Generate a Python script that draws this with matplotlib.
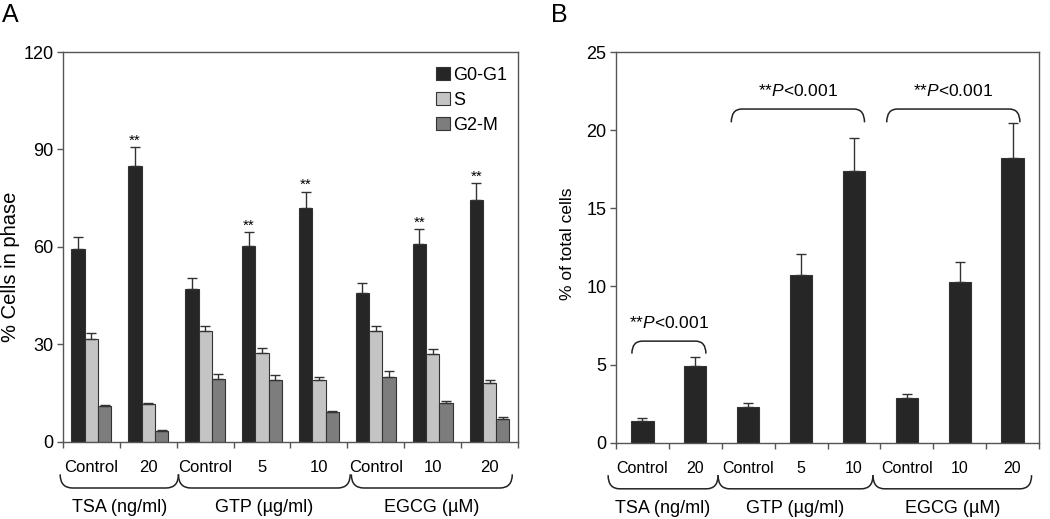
#!/usr/bin/env python3
"""Cell-cycle phase distribution (A) and % of total cells (B) bar charts."""
import numpy as np
import matplotlib.pyplot as plt
from matplotlib.patches import PathPatch, Patch
from matplotlib.path import Path
from matplotlib.transforms import blended_transform_factory

plt.rcParams["font.family"] = ["Liberation Sans", "DejaVu Sans"]
plt.rcParams["mathtext.fontset"] = "custom"
plt.rcParams["mathtext.it"] = "Liberation Sans:italic"
plt.rcParams["mathtext.rm"] = "Liberation Sans"

# ---- data ----
categories = ["Control", "20", "Control", "5", "10", "Control", "10", "20"]
groups = ["TSA (ng/ml)", "GTP (\u00b5g/ml)", "EGCG (\u00b5M)"]
phases = ["G0-G1", "S", "G2-M"]

g0g1 = [59.5, 85.0, 47.0, 60.4, 72.1, 45.9, 61.0, 74.5]
g0g1_err = [3.6, 5.8, 3.4, 4.2, 4.9, 2.9, 4.4, 5.1]
s_phase = [31.8, 11.7, 34.0, 27.5, 19.1, 34.3, 27.2, 18.3]
s_err = [1.8, 0.4, 1.7, 1.4, 0.8, 1.5, 1.4, 0.7]
g2m = [11.1, 3.4, 19.4, 19.1, 9.1, 20.1, 11.9, 7.2]
g2m_err = [0.4, 0.3, 1.4, 1.4, 0.5, 1.6, 0.8, 0.6]
sig_a = [False, True, False, True, True, False, True, True]

total_cells = [1.4, 4.9, 2.3, 10.7, 17.4, 2.85, 10.27, 18.2]
total_err = [0.15, 0.6, 0.25, 1.35, 2.1, 0.25, 1.3, 2.25]
p_label = r"**$\mathit{P}$<0.001"

# Colors
DARK = "#262626"
LIGHT = "#c4c4c4"
MID = "#7d7d7d"
EDGE = "#333333"
SPINE = "#555555"

fig = plt.figure(figsize=(10.5, 5.19), dpi=100)
fig.patch.set_facecolor("white")
axA = fig.add_axes([0.060, 0.1484, 0.4333, 0.7514])
axB = fig.add_axes([0.5867, 0.1470, 0.4028, 0.7528])

x = np.arange(len(categories))


def style_axis(ax, ymax, ystep, tick_fs, cat_fs):
    ax.set_xlim(-0.5, len(categories) - 0.5)
    ax.set_ylim(0, ymax)
    ax.set_yticks(np.arange(0, ymax + 0.1, ystep))
    for sp in ax.spines.values():
        sp.set_color(SPINE)
        sp.set_linewidth(1.0)
    ax.tick_params(axis="y", direction="out", length=4, width=1,
                   color=SPINE, labelsize=tick_fs, pad=3)
    # boundary ticks (major) and centered labels (minor)
    ax.set_xticks(np.arange(-0.5, len(categories), 1))
    ax.set_xticklabels([])
    ax.set_xticks(x, minor=True)
    ax.set_xticklabels(categories, minor=True)
    ax.tick_params(axis="x", which="major", direction="out", length=4,
                   width=1, color=SPINE)
    ax.tick_params(axis="x", which="minor", length=0, pad=13,
                   labelsize=cat_fs)


def brace(ax, x0, x1, top, bottom, r):
    """Rounded under-bracket in blended coords (x data, y axes)."""
    tr = blended_transform_factory(ax.transData, ax.transAxes)
    verts = [(x0, top), (x0, bottom), (x0 + r, bottom),
             (x1 - r, bottom), (x1, bottom), (x1, top)]
    codes = [Path.MOVETO, Path.CURVE3, Path.CURVE3,
             Path.LINETO, Path.CURVE3, Path.CURVE3]
    ax.add_patch(PathPatch(Path(verts, codes), fill=False, lw=1.1,
                           edgecolor="#222222", transform=tr, clip_on=False))


def bracket(ax, x0, x1, top, end, r):
    """Rounded over-bracket in data coordinates."""
    verts = [(x0, end), (x0, top), (x0 + r, top),
             (x1 - r, top), (x1, top), (x1, end)]
    codes = [Path.MOVETO, Path.CURVE3, Path.CURVE3,
             Path.LINETO, Path.CURVE3, Path.CURVE3]
    ax.add_patch(PathPatch(Path(verts, codes), fill=False, lw=1.1,
                           edgecolor="#222222", clip_on=False))


def group_labels(ax, spans, fs):
    tr = blended_transform_factory(ax.transData, ax.transAxes)
    for (x0, x1), name in zip(spans, groups):
        brace(ax, x0, x1, -0.083, -0.118, 0.22)
        ax.text((x0 + x1) / 2, -0.169, name, transform=tr, ha="center",
                va="center", fontsize=fs)


# ============ Panel A ============
w = 0.234
err_kw = dict(ecolor="#333333", elinewidth=1.0, capsize=3.5, capthick=1.0)
series = [(g0g1, g0g1_err, DARK), (s_phase, s_err, LIGHT), (g2m, g2m_err, MID)]
for i, (vals, errs, col) in enumerate(series):
    axA.bar(x + (i - 1) * w, vals, w, color=col, edgecolor=EDGE, linewidth=0.8,
            yerr=[np.zeros(len(vals)), errs], error_kw=err_kw, zorder=2,
            label=phases[i])

for xi, v, e, sig in zip(x, g0g1, g0g1_err, sig_a):
    if sig:
        axA.text(xi - w, v + e + 0.8, "**", ha="center", va="baseline",
                 fontsize=11)

style_axis(axA, 120, 30, 13, 12)
axA.set_ylabel("% Cells in phase", fontsize=14.5)
axA.yaxis.set_label_coords(-0.094, 0.45)

handles = [Patch(facecolor=c, edgecolor=EDGE, linewidth=0.8)
           for c in (DARK, LIGHT, MID)]
axA.legend(handles, phases, loc="upper right", bbox_to_anchor=(1.005, 0.995),
           frameon=False, fontsize=13, handlelength=0.75, handleheight=0.75,
           handletextpad=0.2, labelspacing=0.45, borderpad=0.2)

group_labels(axA, [(-0.55, 1.53), (1.53, 4.55), (4.57, 7.4)], 13)

# ============ Panel B ============
axB.bar(x, total_cells, 0.42, color=DARK, edgecolor=EDGE, linewidth=0.8,
        yerr=[np.zeros(len(total_cells)), total_err], error_kw=err_kw, zorder=2)

style_axis(axB, 25, 5, 13, 11.5)
axB.set_ylabel("% of total cells", fontsize=12.5)
axB.yaxis.set_label_coords(-0.097, 0.51)

group_labels(axB, [(-0.65, 1.43), (1.43, 4.36), (4.36, 7.36)], 13)

for x0, x1, top, end in [(-0.2, 1.2, 6.5, 5.7), (1.68, 4.2, 21.35, 20.5),
                         (4.62, 7.14, 21.35, 20.5)]:
    bracket(axB, x0, x1, top, end, 0.2)
    axB.text((x0 + x1) / 2, top + 1.15, p_label, ha="center", va="center",
             fontsize=12.5)

# Panel letters
fig.text(0.002, 0.972, "A", fontsize=18, ha="left", va="center")
fig.text(0.525, 0.972, "B", fontsize=18, ha="left", va="center")

fig.savefig("out.png", dpi=100, facecolor="white")
